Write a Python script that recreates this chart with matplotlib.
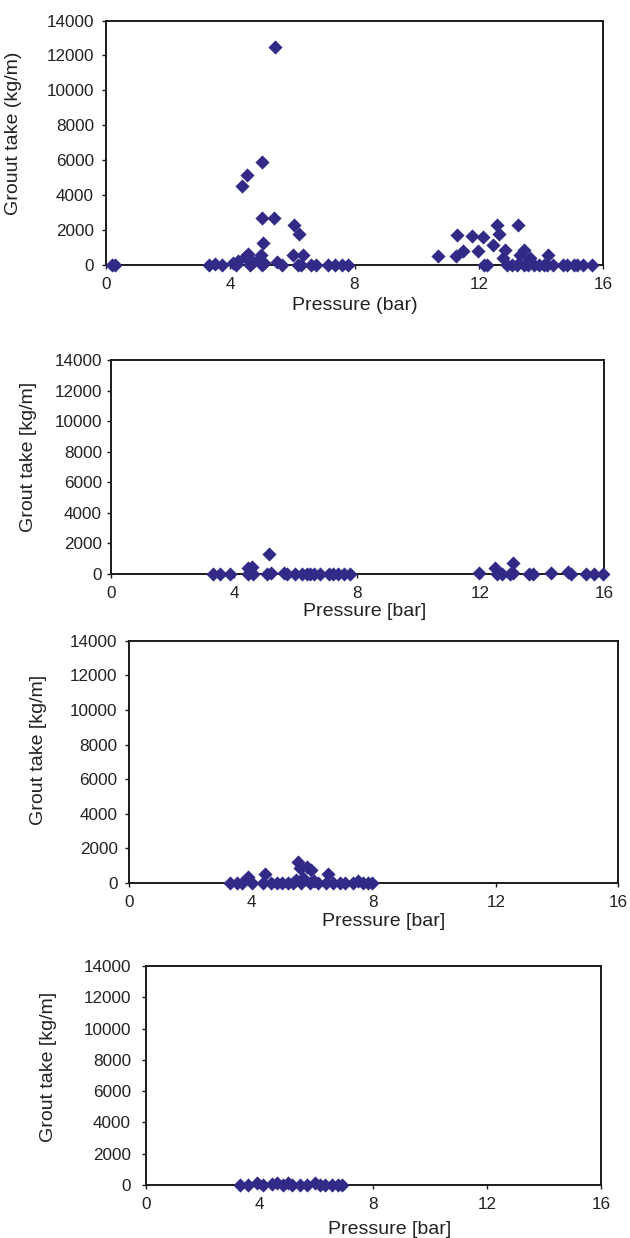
import matplotlib
matplotlib.use('Agg')
import matplotlib.pyplot as plt

plt.rcParams['font.family'] = ['Liberation Sans', 'DejaVu Sans']

# panel 1 (a)
p1_x = [0.18, 0.29,
        3.30, 3.50, 3.72, 4.09, 4.20, 4.25, 4.38, 4.47, 4.54, 4.58, 4.63, 4.74, 4.90, 4.98,
        5.01, 5.03, 5.03, 5.06, 5.10, 5.40, 5.43, 5.49, 5.65, 6.02, 6.05, 6.18, 6.22, 6.29,
        6.35, 6.61, 6.77, 7.14, 7.36, 7.59, 7.78,
        10.70, 11.27, 11.29, 11.50, 11.78, 11.96, 12.15, 12.18, 12.26, 12.47, 12.59, 12.64,
        12.78, 12.86, 12.92, 13.08, 13.22, 13.27, 13.33, 13.44, 13.45, 13.60, 13.65, 13.78,
        13.94, 14.10, 14.20, 14.24, 14.38, 14.70, 14.83, 15.05, 15.15, 15.35, 15.64]
p1_y = [0, 0,
        0, 80, 0, 100, 0, 250, 4500, 450, 5150, 650, 0, 150, 300, 550,
        0, 5900, 2720, 1270, 100, 2700, 12500, 150, 0, 550, 2320, 0, 1780, 0,
        550, 0, 0, 0, 0, 0, 0,
        490, 490, 1740, 820, 1680, 820, 1600, 0, 0, 1120, 2280, 1780,
        410, 840, 0, 0, 0, 2280, 560, 0, 860, 0, 420, 0,
        0, 0, 0, 550, 0, 0, 0, 0, 0, 0, 0]

# panel 2 (b)
p2_x = [3.32, 3.54, 3.86, 4.46, 4.46, 4.57, 4.60, 5.05, 5.14, 5.18, 5.60, 5.70, 5.97, 6.19,
        6.35, 6.46, 6.60, 6.79, 7.06, 7.22, 7.38, 7.55, 7.76,
        11.93, 12.47, 12.52, 12.68, 12.95, 13.06, 13.06, 13.58, 13.71, 14.27, 14.84, 14.92,
        15.42, 15.66, 15.96]
p2_y = [0, 0, 0, 0, 370, 480, 0, 0, 1300, 100, 100, 0, 0, 0,
        0, 0, 0, 0, 0, 0, 0, 0, 0,
        80, 400, 0, 0, 0, 700, 100, 0, 0, 80, 150, 0,
        0, 0, 0]

# panel 3 (c)
p3_x = [3.30, 3.52, 3.71, 3.90, 4.01, 4.39, 4.44, 4.66, 4.85, 4.99, 5.21, 5.35, 5.45, 5.53,
        5.59, 5.64, 5.70, 5.81, 5.92, 5.97, 6.05, 6.19, 6.46, 6.52, 6.68, 6.90, 7.06, 7.33,
        7.49, 7.66, 7.82, 7.96]
p3_y = [0, 0, 0, 330, 0, 0, 520, 0, 0, 0, 0, 0, 150, 1230,
        850, 0, 300, 940, 0, 750, 100, 0, 0, 520, 0, 0, 0, 0,
        130, 0, 0, 0]

# panel 4 (d)
p4_x = [3.31, 3.60, 3.90, 4.13, 4.43, 4.60, 4.81, 5.01, 5.13, 5.42, 5.66, 5.95, 6.13, 6.30,
        6.54, 6.77, 6.89]
p4_y = [0, 0, 150, 0, 50, 150, 0, 150, 0, 0, 0, 150, 0, 0, 0, 0, 0]

x_ticks = [0, 4, 8, 12, 16]
y_ticks = [0, 2000, 4000, 6000, 8000, 10000, 12000, 14000]

panels = [
    (p1_x, p1_y, 'Grouut take (kg/m)', 'Pressure (bar)'),
    (p2_x, p2_y, 'Grout take [kg/m]', 'Pressure [bar]'),
    (p3_x, p3_y, 'Grout take [kg/m]', 'Pressure [bar]'),
    (p4_x, p4_y, 'Grout take [kg/m]', 'Pressure [bar]'),
]

# axes rects in figure fraction, label positions in axes coords
rects = [
    [0.1683, 0.7859, 0.7889, 0.1975],
    [0.1762, 0.5363, 0.7825, 0.1729],
    [0.2048, 0.2868, 0.7762, 0.1955],
    [0.2317, 0.0428, 0.7222, 0.1769],
]
ylab_pos = [(-0.169, 0.54), (-0.150, 0.545), (-0.168, 0.55), (-0.196, 0.54)]
xlab_pos = [(0.5, -0.131), (0.515, -0.136), (0.521, -0.124), (0.536, -0.164)]
ypads = [5.5, 3.2, 5.0, 7.5]

colour = '#322a87'

fig = plt.figure(figsize=(6.3, 12.38), dpi=100)
for i, (xs, ys, ylab, xlab) in enumerate(panels):
    ax = fig.add_axes(rects[i])
    ax.scatter(xs, ys, marker='D', s=52, color=colour, linewidths=0,
               clip_on=False, zorder=3)
    ax.set_xlim(0, 16)
    ax.set_ylim(0, 14000)
    ax.set_xticks(x_ticks)
    ax.set_yticks(y_ticks)
    for sp in ax.spines.values():
        sp.set_linewidth(1.4)
        sp.set_color('#1a1a1a')
    ax.tick_params(axis='both', direction='out', length=3.2, width=1.0,
                   labelsize=12.3, labelcolor='#222222', color='#1a1a1a')
    ax.tick_params(axis='x', pad=5.5)
    ax.tick_params(axis='y', pad=ypads[i])
    ax.set_ylabel(ylab, fontsize=14, color='#222222')
    ax.set_xlabel(xlab, fontsize=14, color='#222222', va='top')
    ax.yaxis.set_label_coords(*ylab_pos[i])
    ax.xaxis.set_label_coords(*xlab_pos[i])

fig.savefig('out.png', dpi=100)
